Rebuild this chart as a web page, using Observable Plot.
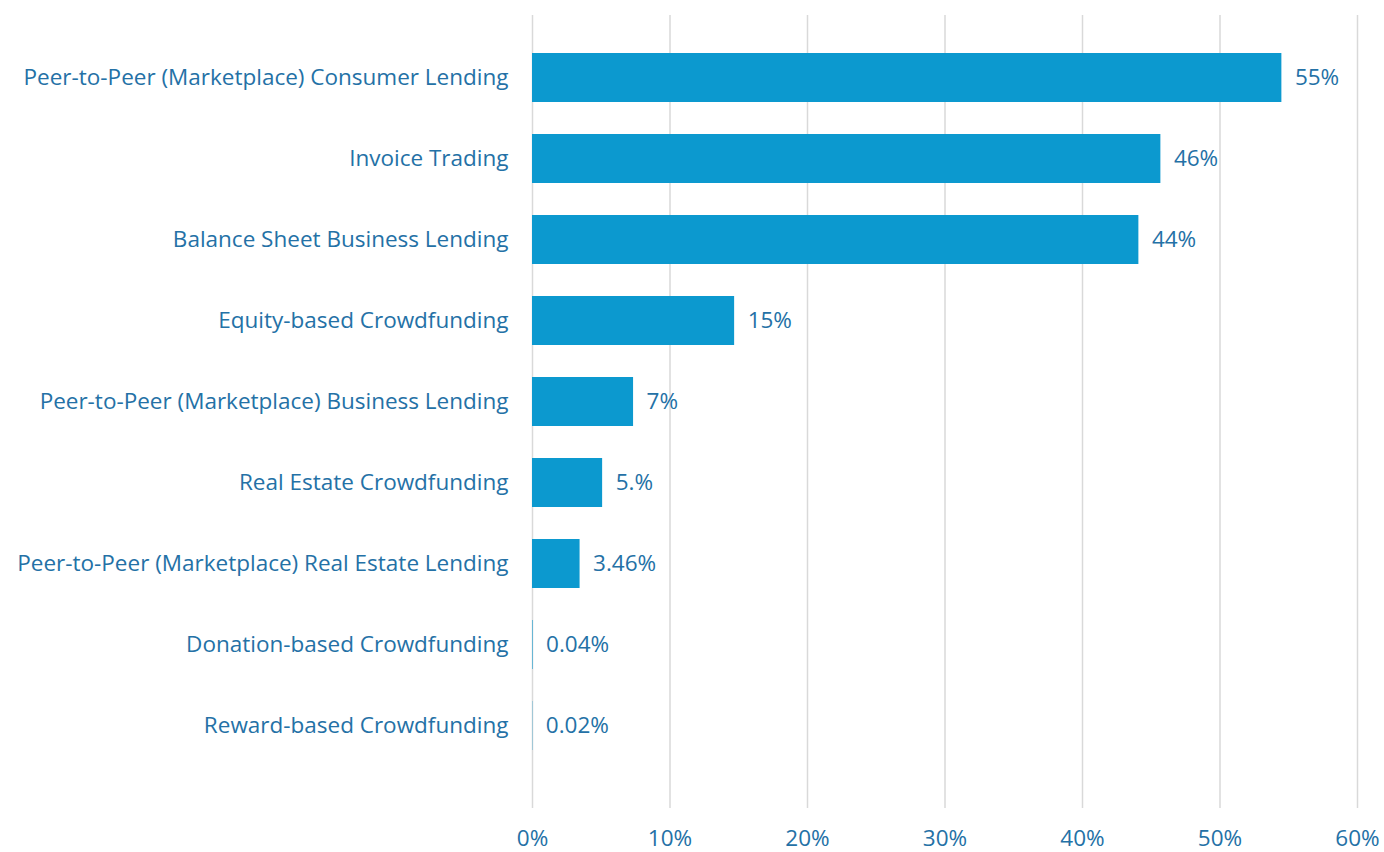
<!DOCTYPE html>
<html>
<head>
<meta charset="utf-8">
<script src="https://cdn.jsdelivr.net/npm/d3@7"></script>
<script src="https://cdn.jsdelivr.net/npm/@observablehq/plot@0.6"></script>
<style>
  html, body { margin: 0; padding: 0; background: #fff; }
  #chart svg { display: block; }
</style>
</head>
<body>
<div id="chart"></div>
<script>
const categories = [
  "Peer-to-Peer (Marketplace) Consumer Lending",
  "Invoice Trading",
  "Balance Sheet Business Lending",
  "Equity-based Crowdfunding",
  "Peer-to-Peer (Marketplace) Business Lending",
  "Real Estate Crowdfunding",
  "Peer-to-Peer (Marketplace) Real Estate Lending",
  "Donation-based Crowdfunding",
  "Reward-based Crowdfunding"
];
const values = [54.5, 45.7, 44.1, 14.7, 7.35, 5.1, 3.46, 0.04, 0.02];
const valueLabels = ["55%", "46%", "44%", "15%", "7%", "5.%", "3.46%", "0.04%", "0.02%"];
const xTicks = [0, 10, 20, 30, 40, 50, 60];

const data = categories.map((c, i) => ({category: c, value: values[i], label: valueLabels[i]}));

const textColor = "#2471a6";
const barColor = "#0c99cf";
const fontFamily = "'Open Sans', sans-serif";
const fs = 22.5;

const chart = Plot.plot({
  width: 1384,
  height: 852,
  marginTop: 15,
  marginBottom: 44,
  marginLeft: 532,
  marginRight: 27,
  style: {fontFamily, fontSize: fs + "px", color: textColor, background: "#fff", overflow: "visible"},
  x: {domain: [0, 60], ticks: xTicks, label: null},
  y: {domain: categories, paddingInner: 0.4, paddingOuter: 0.2, insetTop: 19, insetBottom: 39, label: null},
  marks: [
    Plot.gridX(xTicks, {stroke: "#d9d9d9", strokeOpacity: 1, strokeWidth: 1.5}),
    Plot.axisX({ticks: xTicks, tickSize: 0, tickPadding: 22, tickFormat: d => d + "%", fill: textColor, fontSize: fs, label: null}),
    Plot.axisY({tickSize: 0, tickPadding: 24, fill: textColor, fontSize: fs, label: null}),
    Plot.barX(data, {x: "value", y: "category", fill: barColor}),
    Plot.ruleX(data.filter(d => d.value < 0.5), {x: "value", y: "category", stroke: barColor, strokeWidth: 2, dx: 1}),
    Plot.text(data, {x: "value", y: "category", text: "label", dx: 13, textAnchor: "start", fill: textColor, fontSize: fs})
  ]
});
document.getElementById("chart").append(chart);
</script>
</body>
</html>
